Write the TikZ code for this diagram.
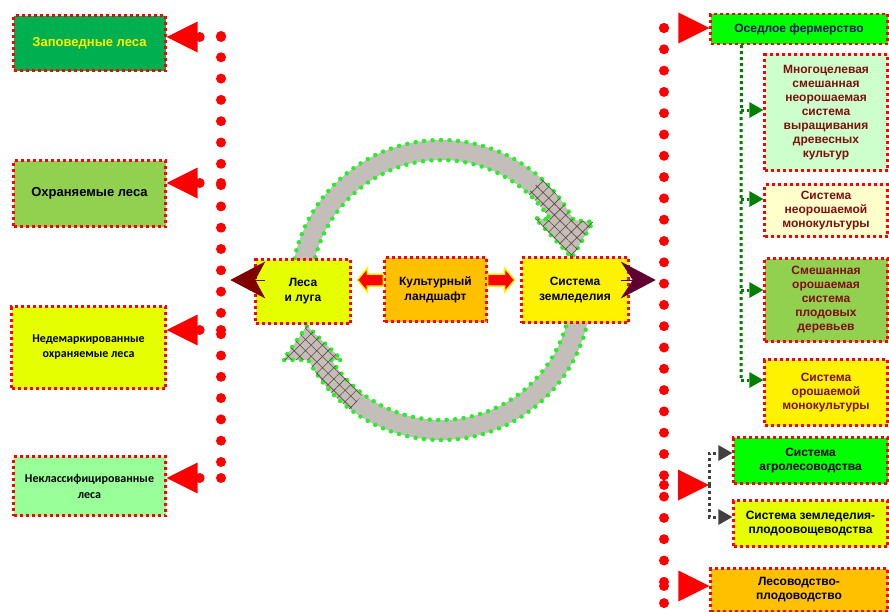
\documentclass[tikz,border=0pt]{standalone}
\usepackage{fontspec}
\setmainfont{Liberation Sans}
\newfontfamily\calibri{Carlito}
\usetikzlibrary{arrows.meta,positioning,calc,patterns.meta}
\definecolor{zapgreen}{RGB}{0,176,80}
\definecolor{leafgreen}{RGB}{146,208,80}
\definecolor{lime}{RGB}{230,255,0}
\definecolor{palegreen}{RGB}{153,255,153}
\definecolor{brightgreen}{RGB}{0,255,0}
\definecolor{mintgreen}{RGB}{204,255,204}
\definecolor{paleyellow}{RGB}{255,255,204}
\definecolor{amber}{RGB}{255,192,0}
\definecolor{maroon}{RGB}{128,0,0}
\definecolor{plum}{RGB}{96,0,48}
\definecolor{navy}{RGB}{20,20,110}
\definecolor{darkred}{RGB}{125,15,15}
\definecolor{dgreen}{RGB}{0,128,0}
\definecolor{dgray}{RGB}{64,64,64}
\definecolor{ringgray}{RGB}{196,190,186}
\definecolor{hatchbrown}{RGB}{100,70,60}
\definecolor{dotgreen}{RGB}{40,240,40}

\begin{document}
\begin{tikzpicture}[x=1pt,y=-1pt,font=\bfseries\fontsize{12}{14}\selectfont]
  \tikzstyle{box}=[draw=red,line width=2.4pt,dash pattern=on 3pt off 3pt,align=center,inner sep=2pt]
  \tikzstyle{reddots}=[draw=red,line width=10pt,dash pattern=on 0pt off 21.3pt,line cap=round]
  \tikzstyle{redtip}=[-{Triangle[length=31pt,width=31pt,line width=0pt]}]
  \tikzstyle{greendots}=[draw=dgreen,line width=3pt,dash pattern=on 3pt off 3pt]
  \tikzstyle{graydots}=[draw=dgray,line width=3pt,dash pattern=on 3pt off 3pt]
  \tikzstyle{smalltip}=[-{Triangle[length=14pt,width=16pt,line width=0pt]}]
  \tikzstyle{ringarrow}=[fill=ringgray,draw=dotgreen,line width=4.5pt,dash pattern=on 0pt off 8.5pt,line cap=round]
  \tikzstyle{blockarrow}=[fill=red,draw=yellow,line width=1.5pt,line join=miter]

  \useasboundingbox (0,0) rectangle (889,611);

  % circular arrows
  \coordinate (cyc) at (441,290);
  \path[ringarrow] ($(cyc)+(190:130)$) -- ($(cyc)+(190:150)$) arc[start angle=190,end angle=332.2,radius=150]
    -- (593,222) -- (572,258) -- (535,218) -- ($(cyc)+(327.3:130)$) arc[start angle=327.3,end angle=190,radius=130] -- cycle;
  \fill[pattern={Hatch[angle=45,distance=8pt,line width=0.6pt]},pattern color=hatchbrown]
    ($(cyc)+(312:150)$) arc[start angle=312,end angle=332.2,radius=150]
    -- (593,222) -- (572,258) -- (535,218) -- ($(cyc)+(327.3:130)$) arc[start angle=327.3,end angle=312,radius=130] -- cycle;
  \path[ringarrow] ($(cyc)+(10:130)$) -- ($(cyc)+(10:150)$) arc[start angle=10,end angle=152.2,radius=150]
    -- (283,360) -- (307,326) -- (342,360) -- ($(cyc)+(147.4:130)$) arc[start angle=147.4,end angle=10,radius=130] -- cycle;
  \fill[pattern={Hatch[angle=45,distance=8pt,line width=0.6pt]},pattern color=hatchbrown]
    ($(cyc)+(127:150)$) arc[start angle=127,end angle=152.2,radius=150]
    -- (283,360) -- (307,326) -- (342,360) -- ($(cyc)+(147.4:130)$) arc[start angle=147.4,end angle=127,radius=130] -- cycle;

  % left column
  \node[box,fill=zapgreen,text=yellow,minimum width=152,minimum height=55,font=\bfseries\fontsize{13}{15}\selectfont] (zapoved) at (89.5,43) {Заповедные леса};
  \node[box,fill=leafgreen,minimum width=152,minimum height=66,font=\bfseries\fontsize{13}{15}\selectfont] (okhran) at (89.5,193.5) {Охраняемые леса};
  \node[box,fill=lime,minimum width=154,minimum height=82,font=\calibri\bfseries\fontsize{12}{15}\selectfont] (nedemark) at (88.5,347.5) {Недемаркированные\\охраняемые леса};
  \node[box,fill=palegreen,minimum width=152,minimum height=59,font=\calibri\bfseries\fontsize{12}{16}\selectfont] (neklass) at (89.5,486) {Неклассифицированные\\леса};

  % centre
  \node[box,fill=lime,minimum width=95,minimum height=64,font=\bfseries\fontsize{12}{15}\selectfont] (lesa) at (303,291.5) {Леса\\и луга};
  \node[box,fill=amber,minimum width=102,minimum height=64,font=\bfseries\fontsize{12}{15}\selectfont] (kult) at (435.5,289.5) {Культурный\\ландшафт};
  \node[box,fill=yellow,minimum width=107,minimum height=65,font=\bfseries\fontsize{12}{15}\selectfont] (zeml) at (575,290) {Система\\земледелия};

  % right column
  \node[box,fill=brightgreen,text=navy,minimum width=177,minimum height=30] (osed) at (799,29) {Оседлое фермерство};
  \node[box,fill=mintgreen,text=darkred,minimum width=123,minimum height=116] (mnogo) at (826,112.5) {Многоцелевая\\смешанная\\неорошаемая\\система\\выращивания\\древесных\\культур};
  \node[box,fill=paleyellow,text=darkred,minimum width=123,minimum height=52] (neorosh) at (826,210.5) {Система\\неорошаемой\\монокультуры};
  \node[box,fill=leafgreen,text=darkred,minimum width=123,minimum height=83] (smesh) at (826,300) {Смешанная\\орошаемая\\система\\плодовых\\деревьев};
  \node[box,fill=yellow,text=darkred,minimum width=123,minimum height=66] (orosh) at (826,392.5) {Система\\орошаемой\\монокультуры};
  \node[box,fill=brightgreen,minimum width=154,minimum height=46] (agro) at (810.5,460.5) {Система\\агролесоводства};
  \node[box,fill=lime,minimum width=154,minimum height=46] (plodo) at (810.5,523.5) {Система земледелия-\\плодоовощеводства};
  \node[box,fill=amber,minimum width=177,minimum height=43] (lesovod) at (799,590) {Лесоводство-\\плодоводство};

  % block arrows out of the centre
  \filldraw[blockarrow] ($(kult.west)+(0,-15.5)$) -- ++(-16,0) -- ++(0,-6) -- ++(-10,12) -- ++(10,12) -- ++(0,-6) -- ++(16,0) -- cycle;
  \filldraw[blockarrow] ($(kult.east)+(0,-15.5)$) -- ++(17,0) -- ++(0,-6) -- ++(10,12) -- ++(-10,12) -- ++(0,-6) -- ++(-17,0) -- cycle;
  \draw[maroon,-{Stealth[length=35pt,width=37pt,inset=10pt,line width=0pt]}] ($(lesa.west)+(11,-11.5)$) -- ($(lesa.west)+(-24,-11.5)$);
  \draw[plum,-{Stealth[length=35pt,width=37pt,inset=12pt,line width=0pt]}] ($(zeml.east)+(-9,-10)$) -- ($(zeml.east)+(26,-10)$);

  % left dotted line
  \coordinate (ltop) at (221,36);
  \coordinate (lbot) at (221,483);
  \coordinate (l1) at (221,37);
  \coordinate (l2) at (221,183);
  \coordinate (l3) at (221,330);
  \coordinate (l4) at (221,478);
  \draw[reddots] (ltop) -- (lbot);
  \draw[reddots,redtip] (l1) -- (l1 -| zapoved.east);
  \draw[reddots,redtip] (l2) -- (l2 -| okhran.east);
  \draw[reddots,redtip] (l3) -- (l3 -| nedemark.east);
  \draw[reddots,redtip] (l4) -- (l4 -| neklass.east);

  % right dotted line
  \coordinate (rtop) at (664,28);
  \coordinate (rbot) at (664,604);
  \coordinate (r1) at (664,28);
  \coordinate (r2) at (664,485);
  \coordinate (r3) at (664,586);
  \coordinate (fork) at (709,485);
  \draw[reddots] (rtop) -- (rbot);
  \draw[reddots,redtip] (r1) -- (r1 -| osed.west);
  \draw[reddots,redtip] (r2) -- (fork);
  \draw[reddots,redtip] (r3) -- (r3 -| lesovod.west);

  % farming branches
  \coordinate (gtop) at ($(osed.south west)+(32,0)$);
  \coordinate (g1) at (741,110);
  \coordinate (g2) at (741,199);
  \coordinate (g3) at (741,290);
  \coordinate (g4) at (741,380);
  \draw[greendots] (gtop) -- (g4);
  \draw[greendots,smalltip,dgreen] (g1) -- (g1 -| mnogo.west);
  \draw[greendots,smalltip,dgreen] (g2) -- (g2 -| neorosh.west);
  \draw[greendots,smalltip,dgreen] (g3) -- (g3 -| smesh.west);
  \draw[greendots,smalltip,dgreen] (g4) -- (g4 -| orosh.west);

  % agroforestry branches
  \draw[graydots,smalltip,dgray] (fork) |- ($(agro.west)+(0,-7.5)$);
  \draw[graydots,smalltip,dgray] (fork) |- ($(plodo.west)+(0,-6.5)$);
\end{tikzpicture}
\end{document}
